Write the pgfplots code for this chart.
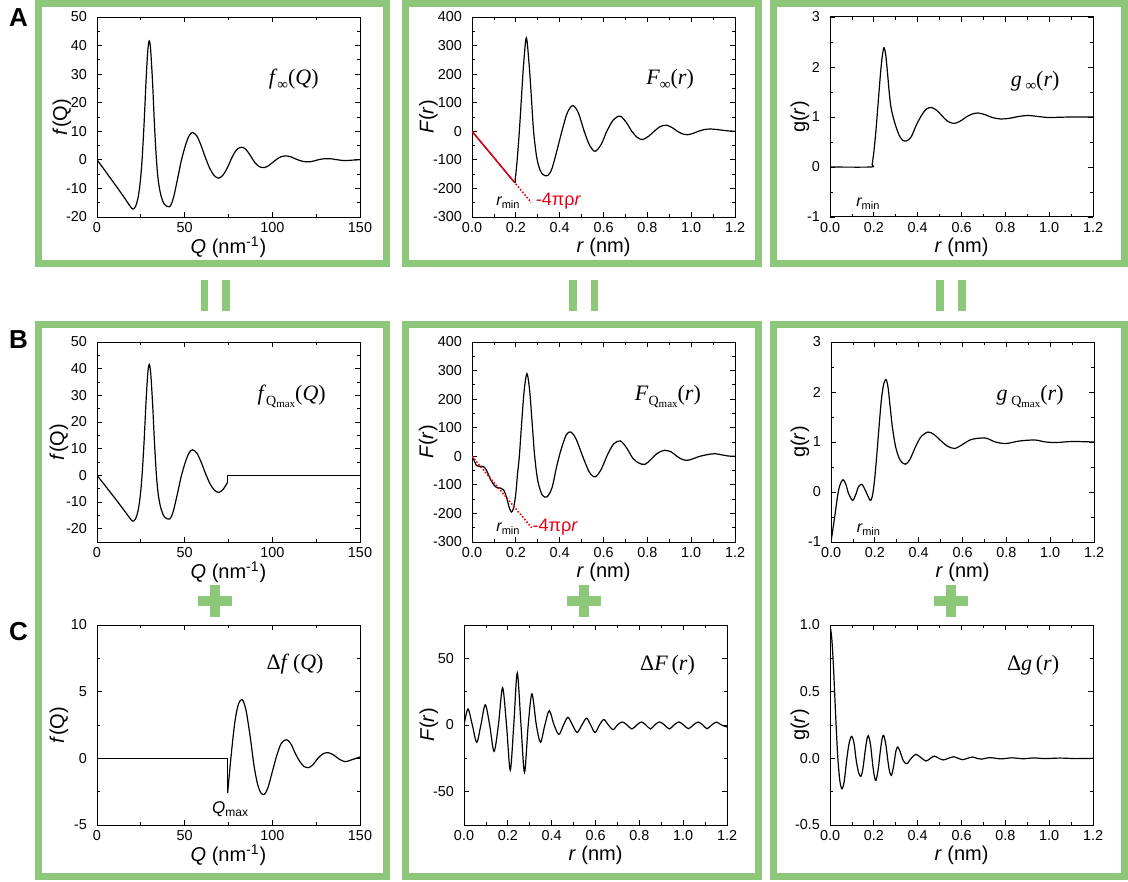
\documentclass[border=0pt]{standalone}
\usepackage{fontspec}
\setmainfont{Liberation Sans}
\newfontfamily\tms{Liberation Serif}
\usepackage{pgfplots}
\pgfplotsset{compat=1.18}
\definecolor{framegreen}{RGB}{141,200,122}
\definecolor{annred}{RGB}{232,0,22}

% inset labels (serif) and small annotations
\newcommand{\ins}[1]{{\tms\fontsize{11}{12}\selectfont #1}}
\newcommand{\infsub}{\raisebox{-0.45ex}{\fontsize{7.5}{8}\selectfont ∞}}
\newcommand{\qsub}{\raisebox{-0.5ex}{\fontsize{7}{8}\selectfont Q\raisebox{-0.25ex}{\fontsize{5.5}{6}\selectfont max}}}
\newcommand{\rmin}{{\fontsize{8}{9}\selectfont\itshape r}\raisebox{-0.3ex}{\fontsize{5.5}{6}\selectfont min}}
\newcommand{\redlab}{{\color{annred}\fontsize{9}{10}\selectfont -4πρ\textit{r}}}

\pgfplotsset{
  panel/.style={
    scale only axis, width=131.5pt, height=100pt, anchor=south west,
    enlargelimits=false, clip=true, no markers, cycle list={{black}},
    tick align=inside, minor tick num=1,
    major tick length=2.5pt, minor tick length=1.4pt,
    every tick/.style={black, line width=0.4pt},
    axis line style={line width=0.5pt},
    tick label style={font=\fontsize{7.2}{8}\selectfont},
    xticklabel style={yshift=0.6pt},
    label style={font=\fontsize{10}{11}\selectfont},
    xlabel style={at={(axis description cs:0.5,-0.152)}, anchor=center},
    ylabel style={anchor=center},
    yticklabel style={xshift=-1.5pt},
    /pgf/number format/assume math mode=true,
    every axis plot/.append style={black, line width=0.6pt},
  },
  rpanel/.style={panel, xmin=0, xmax=1.2, xtick={0,0.2,0.4,0.6,0.8,1.0,1.2},
    xticklabel style={/pgf/number format/.cd, fixed, fixed zerofill, precision=1},
    xlabel={\textit{r} (nm)}},
  qpanel/.style={panel, xmin=0, xmax=150, xtick={0,50,100,150},
    xlabel={\textit{Q} (nm\textsuperscript{-1})}},
}

\begin{document}
\begin{tikzpicture}
\path[use as bounding box] (0,0) rectangle (564pt,-441pt);

\begin{scope}[x=0.5pt,y=-0.5pt]
  % frames
  \draw[framegreen, line width=3.5pt] (38.5,3.5) rectangle (386.5,263.5);
  \draw[framegreen, line width=3.5pt] (405.2,3.5) rectangle (758.2,263.5);
  \draw[framegreen, line width=3.5pt] (773.5,3.5) rectangle (1124.5,263.5);
  \draw[framegreen, line width=3.5pt] (38.5,324.5) rectangle (386.5,876.5);
  \draw[framegreen, line width=3.5pt] (405.2,324.5) rectangle (758.2,876.5);
  \draw[framegreen, line width=3.5pt] (773.5,324.5) rectangle (1124.5,876.5);
  % equals (vertical) and plus signs
  \foreach \cx in {215.3,583.5,951} {
    \fill[framegreen] (\cx-14.6,280) rectangle (\cx-7,311);
    \fill[framegreen] (\cx+7,280) rectangle (\cx+14.6,311);
    \fill[framegreen] (\cx-17,596) rectangle (\cx+17,606);
    \fill[framegreen] (\cx-5,585) rectangle (\cx+5,617);
  }
  % panel letters
  \node[font=\fontsize{13}{14}\bfseries] at (18.5,18) {A};
  \node[font=\fontsize{13}{14}\bfseries] at (18.5,340) {B};
  \node[font=\fontsize{13}{14}\bfseries] at (18.5,632) {C};
\end{scope}

% ---------------- row A ----------------
\begin{axis}[qpanel, at={(48.5pt,-108.5pt)}, ymin=-20, ymax=50, ytick={-20,-10,...,50},
  ylabel={\textit{f}(Q)}, ylabel style={at={(axis description cs:-0.133,0.5)}}]
\addplot[black, smooth] coordinates {(0,0)(4,-3.3)(8,-6.7)(12,-10.1)(16,-13.6)(19,-16.3)(20.5,-17.2)(22,-16.3)(23.5,-13)(24.7,-7.5)(25.7,0)(26.8,12)(28,28)(29,38.5)(29.8,41.6)(30.6,38.5)(31.7,27)(32.8,12)(33.9,0)(35,-7.5)(36.5,-12.5)(38.5,-15.6)(41.4,-16.4)(43.5,-13.5)(46,-6.5)(48,-0.5)(50.5,5.2)(52.5,8.4)(54.5,9.6)(57,8.3)(59.5,4.8)(62,0.5)(64.5,-3.2)(67,-5.6)(69.5,-6.4)(72,-5.2)(74.5,-2.6)(76.5,0.2)(78.5,2.6)(80.5,4.0)(82.8,4.4)(85,3.6)(87.5,1.5)(89.5,-0.5)(91.5,-1.9)(93.5,-2.6)(95.5,-2.7)(97.5,-2.2)(100,-1.0)(102.5,0.2)(105,1.1)(108,1.4)(110.5,1.1)(113,0.4)(115.5,-0.2)(118,-0.6)(120.5,-0.7)(123,-0.5)(126,0)(129,0.35)(132,0.42)(135,0.25)(138,-0.05)(141.5,-0.25)(145,-0.12)(150,0.05)};
\node at (axis description cs:0.748,0.688) {\ins{\textit{f}\infsub(\textit{Q})}};
\end{axis}

\begin{axis}[rpanel, at={(236pt,-108.5pt)}, ymin=-300, ymax=400, ytick={-300,-200,...,400},
  ylabel={\textit{F}(\textit{r})}, ylabel style={at={(axis description cs:-0.166,0.5)}}]
\addplot[black, smooth] coordinates {(0,0)(0.1,-92)(0.19,-175)(0.197,-168)(0.205,-110)(0.216,0)(0.225,110)(0.235,230)(0.2477,327)(0.26,240)(0.27,130)(0.281,0)(0.295,-90)(0.31,-135)(0.325,-152)(0.346,-155)(0.365,-130)(0.39,-60)(0.41,0)(0.435,65)(0.46,90)(0.485,65)(0.512,0)(0.537,-50)(0.562,-70)(0.59,-45)(0.615,0)(0.645,40)(0.676,53)(0.705,30)(0.729,0)(0.755,-22)(0.778,-29)(0.805,-18)(0.831,0)(0.86,17)(0.889,21)(0.915,12)(0.937,0)(0.96,-9)(0.984,-12)(1.01,-7)(1.033,0)(1.06,6)(1.086,8)(1.12,6)(1.16,2)(1.2,0)};
\addplot[annred, line width=0.7pt] coordinates {(0,0)(0.19,-175)};
\addplot[annred, line width=0.8pt, dash pattern=on 0.8pt off 0.9pt] coordinates {(0.19,-175)(0.27,-249)};
\node at (axis cs:0.164,-251) {\rmin};
\node at (axis cs:0.395,-245) {\redlab};
\node at (axis description cs:0.753,0.688) {\ins{\textit{F}\infsub(\textit{r})}};
\end{axis}

\begin{axis}[rpanel, at={(415pt,-108.5pt)}, ymin=-1, ymax=3, ytick={-1,0,1,2,3},
  ylabel={g(\textit{r})}, ylabel style={at={(axis description cs:-0.114,0.5)}}]
\addplot[black, smooth] coordinates {(0,0)(0.1855,0)(0.192,0.05)(0.2,0.3)(0.21,0.75)(0.22,1.3)(0.23,1.85)(0.238,2.2)(0.246,2.385)(0.254,2.25)(0.262,1.9)(0.27,1.5)(0.278,1.2)(0.288,1.0)(0.3,0.82)(0.315,0.64)(0.33,0.54)(0.348,0.52)(0.37,0.6)(0.395,0.85)(0.42,1.05)(0.44,1.16)(0.462,1.19)(0.485,1.14)(0.51,1.03)(0.535,0.92)(0.566,0.87)(0.595,0.92)(0.625,1.01)(0.65,1.06)(0.675,1.08)(0.705,1.05)(0.74,0.99)(0.78,0.96)(0.82,0.975)(0.86,1.01)(0.903,1.03)(0.95,1.01)(0.994,0.99)(1.05,0.995)(1.1,1.0)(1.2,1.0)};
\node at (axis cs:0.173,-0.733) {\rmin};
\node at (axis description cs:0.78,0.68) {\ins{\textit{g}\,\infsub(\textit{r})}};
\end{axis}

% ---------------- row B ----------------
\begin{axis}[qpanel, at={(48.5pt,-271pt)}, ymin=-25, ymax=50, ytick={-20,-10,...,50},
  ylabel={\textit{f}(Q)}, ylabel style={at={(axis description cs:-0.145,0.5)}}]
\addplot[black, smooth] coordinates {(0,0)(4,-3.3)(8,-6.7)(12,-10.1)(16,-13.6)(19,-16.3)(20.5,-17.2)(22,-16.3)(23.5,-13)(24.7,-7.5)(25.7,0)(26.8,12)(28,28)(29,38.5)(29.8,41.6)(30.6,38.5)(31.7,27)(32.8,12)(33.9,0)(35,-7.5)(36.5,-12.5)(38.5,-15.6)(41.4,-16.4)(43.5,-13.5)(46,-6.5)(48,-0.5)(50.5,5.2)(52.5,8.4)(54.5,9.6)(57,8.3)(59.5,4.8)(62,0.5)(64.5,-3.2)(67,-5.6)(69.5,-6.4)(72,-5.2)(74.5,-2.6)};
\addplot[black, sharp plot] coordinates {(74.5,-2.6)(74.5,0)(150,0)};
\node at (axis description cs:0.74,0.727) {\ins{\textit{f}\qsub(\textit{Q})}};
\end{axis}

\begin{axis}[rpanel, at={(236pt,-271pt)}, ymin=-300, ymax=400, ytick={-300,-200,...,400},
  ylabel={\textit{F}(\textit{r})}, ylabel style={at={(axis description cs:-0.167,0.5)}}]
\addplot[black, smooth] coordinates {(0,0)(0.01,-15)(0.02,-32)(0.03,-35)(0.045,-35)(0.056,-38)(0.068,-52)(0.085,-82)(0.1,-100)(0.114,-110)(0.13,-111)(0.145,-118)(0.158,-145)(0.17,-180)(0.18,-195)(0.19,-180)(0.2,-130)(0.208,-60)(0.216,0)(0.226,110)(0.238,230)(0.2507,289)(0.263,230)(0.275,110)(0.286,0)(0.3,-85)(0.32,-135)(0.342,-142)(0.365,-110)(0.385,-40)(0.405,20)(0.43,75)(0.451,85)(0.475,60)(0.505,0)(0.535,-55)(0.562,-72)(0.59,-45)(0.615,0)(0.645,42)(0.676,54)(0.705,30)(0.735,-8)(0.765,-25)(0.79,-28)(0.815,-12)(0.845,10)(0.878,21)(0.91,15)(0.935,0)(0.96,-11)(0.984,-14)(1.01,-8)(1.04,0)(1.075,6)(1.109,9)(1.14,5)(1.17,1)(1.2,0)};
\addplot[annred, line width=0.8pt, dash pattern=on 0.8pt off 0.9pt] coordinates {(0,0)(0.272,-250)};
\node at (axis cs:0.164,-252) {\rmin};
\node at (axis cs:0.38,-247) {\redlab};
\node at (axis description cs:0.745,0.727) {\ins{\textit{F}\qsub(\textit{r})}};
\end{axis}

\begin{axis}[rpanel, at={(415.5pt,-271pt)}, ymin=-1, ymax=3, ytick={-1,0,1,2,3},
  ylabel={g(\textit{r})}, ylabel style={at={(axis description cs:-0.118,0.5)}}]
\addplot[black, smooth] coordinates {(0,-1)(0.01,-0.7)(0.02,-0.4)(0.03,-0.08)(0.04,0.13)(0.0547,0.247)(0.068,0.15)(0.08,-0.03)(0.0988,-0.167)(0.113,-0.05)(0.125,0.1)(0.141,0.154)(0.158,0.02)(0.179,-0.167)(0.19,-0.05)(0.2,0.3)(0.21,0.8)(0.22,1.35)(0.23,1.85)(0.24,2.15)(0.2507,2.25)(0.26,2.1)(0.27,1.7)(0.28,1.3)(0.295,0.9)(0.315,0.64)(0.339,0.555)(0.36,0.65)(0.385,0.9)(0.41,1.1)(0.442,1.2)(0.47,1.15)(0.5,1.03)(0.53,0.92)(0.564,0.87)(0.6,0.95)(0.64,1.05)(0.703,1.08)(0.75,1.0)(0.798,0.97)(0.86,1.02)(0.93,1.04)(0.98,1.0)(1.03,0.99)(1.1,1.01)(1.2,1.0)};
\node at (axis cs:0.171,-0.746) {\rmin};
\node at (axis description cs:0.757,0.727) {\ins{\textit{g}\,\qsub(\textit{r})}};
\end{axis}

% ---------------- row C ----------------
\begin{axis}[qpanel, at={(48.5pt,-412.5pt)}, ymin=-5, ymax=10, ytick={-5,0,5,10},
  ylabel={\textit{f}(Q)}, ylabel style={at={(axis description cs:-0.145,0.5)}}]
\addplot[black, sharp plot] coordinates {(0,0)(74.5,0)(74.5,-2.6)};
\addplot[black, smooth] coordinates {(74.5,-2.6)(76.5,0.2)(78.5,2.6)(80.5,4.0)(82.8,4.4)(85,3.6)(87.5,1.5)(89.5,-0.5)(91.5,-1.9)(93.5,-2.6)(95.5,-2.7)(97.5,-2.2)(100,-1.0)(102.5,0.2)(105,1.1)(108,1.4)(110.5,1.1)(113,0.4)(115.5,-0.2)(118,-0.6)(120.5,-0.7)(123,-0.5)(126,0)(129,0.35)(132,0.42)(135,0.25)(138,-0.05)(141.5,-0.25)(145,-0.12)(150,0.1)};
\node at (axis cs:75.9,-3.83) {{\fontsize{8.5}{9}\selectfont\itshape Q}\raisebox{-0.3ex}{\fontsize{6}{7}\selectfont max}};
\node at (axis description cs:0.753,0.804) {\ins{Δ\textit{f}\,(\textit{Q})}};
\end{axis}

\begin{axis}[rpanel, at={(232pt,-412.5pt)}, ymin=-75, ymax=75, ytick={-50,0,50},
  ylabel={\textit{F}(\textit{r})}, ylabel style={at={(axis description cs:-0.133,0.5)}}]
\addplot[black, smooth] coordinates {(0,0)(0.018,12)(0.038,0)(0.058,-13)(0.077,0)(0.097,15.2)(0.117,0)(0.137,-19.8)(0.157,0)(0.176,27.9)(0.194,0)(0.211,-33.8)(0.227,0)(0.243,39)(0.26,0)(0.276,-35.5)(0.293,0)(0.31,23.4)(0.33,0)(0.349,-12.9)(0.369,0)(0.389,10.7)(0.411,0)(0.433,-7.1)(0.454,0)(0.474,5.8)(0.495,0)(0.516,-5.6)(0.538,0)(0.559,5.1)(0.578,0)(0.598,-5.6)(0.618,0)(0.638,4.1)(0.659,0)(0.68,-3.5)(0.70,0)(0.722,2.3)(0.744,0)(0.766,-3)(0.788,0)(0.81,2.3)(0.83,0)(0.851,-3)(0.87,0)(0.892,2.3)(0.915,0)(0.937,-3)(0.958,0)(0.98,2.3)(1.002,0)(1.024,-2.8)(1.046,0)(1.068,2.2)(1.09,0)(1.109,-2.8)(1.13,0)(1.152,2.2)(1.175,0)(1.2,-1.5)};
\node at (axis description cs:0.774,0.80) {\ins{Δ\textit{F}\,(\textit{r})}};
\end{axis}

\begin{axis}[rpanel, at={(415pt,-412.5pt)}, ymin=-0.5, ymax=1, ytick={-0.5,0,0.5,1.0},
  yticklabel style={/pgf/number format/.cd, fixed, fixed zerofill, precision=1},
  ylabel={g(\textit{r})}, ylabel style={at={(axis description cs:-0.114,0.5)}}]
\addplot[black, smooth] coordinates {(0,1.0)(0.008,0.9)(0.016,0.68)(0.025,0.35)(0.035,0.02)(0.045,-0.17)(0.0547,-0.228)(0.065,-0.17)(0.077,0.0)(0.088,0.12)(0.099,0.165)(0.11,0.11)(0.12,-0.02)(0.131,-0.11)(0.141,-0.135)(0.15,-0.08)(0.16,0.05)(0.168,0.14)(0.175,0.17)(0.185,0.1)(0.195,-0.05)(0.203,-0.14)(0.21,-0.165)(0.22,-0.08)(0.23,0.06)(0.238,0.15)(0.245,0.172)(0.255,0.1)(0.265,-0.03)(0.272,-0.1)(0.28,-0.128)(0.29,-0.06)(0.3,0.05)(0.309,0.085)(0.32,0.05)(0.335,-0.02)(0.351,-0.04)(0.37,0.0)(0.392,0.03)(0.415,0.005)(0.438,-0.02)(0.458,0)(0.476,0.017)(0.497,0)(0.517,-0.012)(0.54,0)(0.564,0.012)(0.585,0)(0.605,-0.01)(0.627,0)(0.65,0.01)(0.67,0)(0.69,-0.006)(0.73,0.005)(0.78,-0.004)(0.83,0.004)(0.88,-0.003)(0.93,0.003)(0.98,-0.002)(1.05,0.002)(1.12,-0.002)(1.2,0)};
\node at (axis description cs:0.772,0.80) {\ins{Δ\textit{g}\,(\textit{r})}};
\end{axis}
\end{tikzpicture}
\end{document}
